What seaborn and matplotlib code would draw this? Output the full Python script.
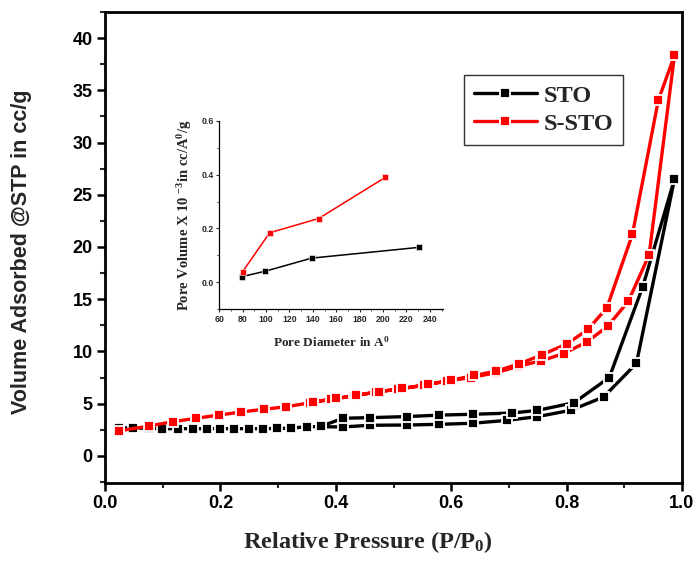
import numpy as np
import pandas as pd
import matplotlib
matplotlib.use("Agg")
import matplotlib.pyplot as plt
import seaborn as sns
from matplotlib.ticker import MultipleLocator, FormatStrFormatter
from matplotlib.lines import Line2D

# ---------------- data ----------------
series_names = ["STO", "S-STO"]
series_colors = ["black", "red"]

sto_ads_x = [0.025, 0.049, 0.077, 0.098, 0.126, 0.152, 0.177, 0.200, 0.224, 0.249,
             0.274, 0.298, 0.323, 0.350, 0.413, 0.460, 0.523, 0.579, 0.637, 0.697,
             0.749, 0.807, 0.864, 0.921, 0.987]
sto_ads_y = [2.70, 2.65, 2.65, 2.60, 2.60, 2.60, 2.60, 2.60, 2.60, 2.60,
             2.60, 2.62, 2.65, 2.80, 2.77, 2.93, 2.95, 3.02, 3.12, 3.40,
             3.75, 4.36, 5.63, 8.85, 26.5]
sto_des_x = [0.932, 0.874, 0.813, 0.749, 0.705, 0.637, 0.579, 0.523, 0.460, 0.413, 0.375]
sto_des_y = [16.2, 7.5, 5.09, 4.35, 4.10, 3.98, 3.90, 3.76, 3.66, 3.60, 2.85]

ssto_ads_x = [0.025, 0.077, 0.1175, 0.158, 0.197, 0.236, 0.275, 0.314, 0.356, 0.392,
              0.431, 0.470, 0.507, 0.553, 0.593, 0.634, 0.677, 0.718, 0.756, 0.795,
              0.835, 0.871, 0.907, 0.943, 0.987]
ssto_ads_y = [2.40, 2.86, 3.27, 3.60, 3.90, 4.20, 4.46, 4.70, 5.09, 5.41,
              5.73, 6.11, 6.37, 6.75, 7.16, 7.50, 7.95, 8.60, 9.10, 9.80,
              10.9, 12.4, 14.8, 19.25, 38.35]
ssto_des_x = [0.959, 0.914, 0.870, 0.837, 0.800, 0.758, 0.718, 0.677, 0.640, 0.600,
              0.560, 0.515, 0.475, 0.435, 0.400, 0.360]
ssto_des_y = [34.05, 21.2, 14.2, 12.1, 10.7, 9.7, 8.8, 8.1, 7.7, 7.25,
              6.85, 6.45, 6.15, 5.80, 5.50, 5.15]

# inset: pore size distribution
sto_pore_d = [79, 99, 139, 231]
sto_pore_v = [0.021, 0.041, 0.090, 0.130]
ssto_pore_d = [80, 103, 145, 202]
ssto_pore_v = [0.040, 0.184, 0.237, 0.390]

xticks_main = [0.0, 0.2, 0.4, 0.6, 0.8, 1.0]
yticks_main = [0, 5, 10, 15, 20, 25, 30, 35, 40]

# ---------------- frames ----------------
iso = pd.concat([
    pd.DataFrame({"p": sto_ads_x + sto_des_x, "v": sto_ads_y + sto_des_y, "sample": "STO"}),
    pd.DataFrame({"p": ssto_ads_x + ssto_des_x, "v": ssto_ads_y + ssto_des_y, "sample": "S-STO"}),
], ignore_index=True)
psd = pd.concat([
    pd.DataFrame({"d": sto_pore_d, "vol": sto_pore_v, "sample": "STO"}),
    pd.DataFrame({"d": ssto_pore_d, "vol": ssto_pore_v, "sample": "S-STO"}),
], ignore_index=True)

# ---------------- style ----------------
sns.set_theme(style="ticks")
plt.rcParams["font.family"] = ["Liberation Sans", "DejaVu Sans"]
plt.rcParams["font.weight"] = "bold"
plt.rcParams["mathtext.fontset"] = "custom"
plt.rcParams["mathtext.rm"] = "Liberation Serif:bold"
plt.rcParams["mathtext.it"] = "Liberation Serif:bold"
plt.rcParams["mathtext.bf"] = "Liberation Serif:bold"
palette = dict(zip(series_names, series_colors))

fig = plt.figure(figsize=(6.97, 5.62), dpi=100)
ax = fig.add_axes([105 / 697, 1 - 483 / 562, (682 - 105) / 697, (483 - 12) / 562])

sns.lineplot(data=iso, x="p", y="v", hue="sample", hue_order=series_names,
             palette=palette, sort=False, estimator=None, ax=ax,
             marker="s", markersize=6.8, markeredgecolor="white", markeredgewidth=1.3,
             linewidth=2.4, legend=False)

ax.set_xlim(0, 1.0)
ax.set_ylim(-2.6, 42.5)
ax.set_xticks(xticks_main)
ax.set_yticks(yticks_main)
ax.xaxis.set_major_formatter(FormatStrFormatter("%.1f"))
ax.xaxis.set_minor_locator(MultipleLocator(0.1))
ax.yaxis.set_minor_locator(MultipleLocator(2.5))
ax.tick_params(which="major", direction="out", length=6, width=1.8, labelsize=13, pad=3,
               colors="black")
ax.tick_params(which="minor", direction="out", length=3.5, width=1.5)
for lab in ax.get_xticklabels() + ax.get_yticklabels():
    lab.set_fontweight("bold")
for s in ax.spines.values():
    s.set_linewidth(2.0)
    s.set_color("black")

ax.set_xlabel("Relative Pressure (P/P$_0$)", family=["Liberation Serif"], fontsize=17.5,
              fontweight="bold")
ax.xaxis.set_label_coords((368 - 105) / 577, -0.098)
ax.set_ylabel("Volume Adsorbed @STP in cc/g", fontsize=15.5, fontweight="bold")
ax.yaxis.set_label_coords((32 - 105) / 577, 0.49)

handles = [Line2D([], [], color=c, linewidth=2.4, marker="s", markersize=6.8,
                  markeredgecolor="white", markeredgewidth=1.3) for c in series_colors]
leg = ax.legend(handles, series_names, loc="upper left", bbox_to_anchor=(0.622, 0.866),
                borderaxespad=0, frameon=True, fancybox=False, edgecolor="black",
                handlelength=2.6, handletextpad=0.3, borderpad=0.4, labelspacing=0.25,
                prop={"family": "Liberation Serif", "weight": "bold", "size": 17.5})
leg.get_frame().set_linewidth(1.0)

# ---------------- inset ----------------
axin = fig.add_axes([219.3 / 697, 1 - 309.3 / 562, (442.7 - 219.3) / 697, (309.3 - 120.7) / 562])
axin.patch.set_alpha(0)
sns.lineplot(data=psd, x="d", y="vol", hue="sample", hue_order=series_names,
             palette=palette, sort=False, estimator=None, ax=axin,
             marker="s", markersize=3.8, markeredgecolor="white", markeredgewidth=0.4,
             linewidth=1.1, legend=False)
axin.set_xlim(60, 251)
axin.set_ylim(-0.1, 0.6)
axin.set_xticks(np.arange(60, 241, 20))
axin.set_yticks([0.0, 0.2, 0.4, 0.6])
axin.yaxis.set_major_formatter(FormatStrFormatter("%.1f"))
axin.xaxis.set_minor_locator(MultipleLocator(10))
axin.yaxis.set_minor_locator(MultipleLocator(0.1))
axin.tick_params(which="major", direction="out", length=2.5, width=0.8, labelsize=6.3, pad=1.5)
axin.tick_params(which="minor", direction="out", length=1.5, width=0.6)
for lab in axin.get_xticklabels() + axin.get_yticklabels():
    lab.set_fontweight("bold")
axin.spines["top"].set_visible(False)
axin.spines["right"].set_visible(False)
for k in ("left", "bottom"):
    axin.spines[k].set_linewidth(0.9)
    axin.spines[k].set_color("black")
axin.set_xlabel("Pore Diameter in A$^0$", family=["Liberation Serif"], fontsize=9.5,
                fontweight="bold", labelpad=8)
axin.set_ylabel("Pore Volume X 10 $^{-3}$in cc/A$^{0}$/g", family=["Liberation Serif"],
                fontsize=10.5, fontweight="bold", labelpad=5)

fig.savefig("out.png", dpi=100)
